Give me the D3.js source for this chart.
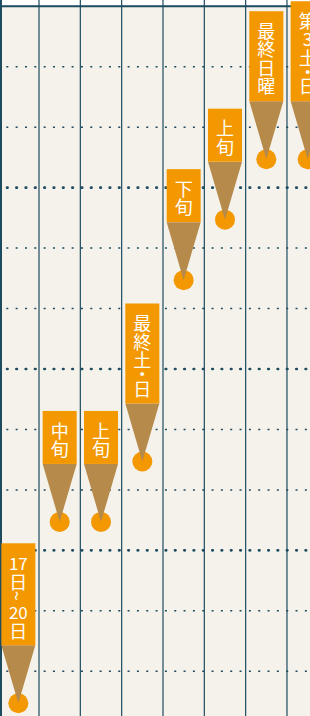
<!DOCTYPE html>
<html>
<head>
<meta charset="utf-8">
<script src="https://cdn.jsdelivr.net/npm/d3@7"></script>
<style>
  body { margin: 0; background: #f5f2eb; }
  svg { display: block; }
</style>
</head>
<body>
<div id="chart"></div>
<script>
// timing label of each event column
var labels = ["17日~20日", "中旬", "上旬", "最終土・日", "下旬", "上旬", "最終日曜", "第3土・日"];
// month of each event (1 = top row)
var months = [12, 9, 9, 8, 5, 4, 3, 3];
// month boundaries drawn as grid lines
var monthTicks = d3.range(1, 13);

var width = 310, height = 716;
var colStep = 41.33, colStart = -2.33;
var rowStep = 60.45, rowStart = 6.3;

var svg = d3.select('#chart').append('svg')
    .attr('width', width)
    .attr('height', height);

svg.append('rect')
    .attr('width', width).attr('height', height)
    .attr('fill', '#f5f2eb');

// white strip on top
svg.append('rect')
    .attr('width', width).attr('height', 5)
    .attr('fill', '#ffffff');

var x = d3.scaleBand()
    .domain(d3.range(labels.length))
    .range([colStart, colStart + colStep * labels.length]);

var y = d3.scaleLinear()
    .domain([0, 12])
    .range([rowStart, rowStart + rowStep * 12]);

var lineColor = '#1d4b60';

// month grid lines, every third one bolder
svg.append('g').selectAll('line')
    .data(monthTicks)
    .join('line')
    .attr('x1', 0).attr('x2', width)
    .attr('y1', function(d) { return y(d); })
    .attr('y2', function(d) { return y(d); })
    .attr('stroke', lineColor)
    .attr('stroke-width', function(d) { return d % 3 === 0 ? 2.7 : 1.5; })
    .attr('stroke-linecap', function(d) { return d % 3 === 0 ? 'round' : 'butt'; })
    .attr('stroke-dasharray', function(d) { return d % 3 === 0 ? '0.5 8.83' : '2 7.33'; })
    .attr('stroke-dashoffset', function(d) { return d % 3 === 0 ? 2.28 : 3.03; });

// top solid line
svg.append('line')
    .attr('x1', 0).attr('x2', width)
    .attr('y1', y(0)).attr('y2', y(0))
    .attr('stroke', lineColor)
    .attr('stroke-width', 2);

// column separators
svg.append('g').selectAll('line')
    .data(d3.range(1, labels.length))
    .join('line')
    .attr('x1', function(d) { return x(d); })
    .attr('x2', function(d) { return x(d); })
    .attr('y1', 0).attr('y2', height)
    .attr('stroke', lineColor)
    .attr('stroke-width', 1.2);

// left border
svg.append('line')
    .attr('x1', 1).attr('x2', 1)
    .attr('y1', 0).attr('y2', height)
    .attr('stroke', lineColor)
    .attr('stroke-width', 2);

/**
 * vertical advance of one stacked token.
 */
function advance(t) {
    if (t === '・') return 10;
    if (t === '~') return 12;
    return 18.5;
}

var boxW = 34, stem = 58, padTop = 9.5, padBottom = 6.5;

var pins = svg.append('g').selectAll('g')
    .data(labels)
    .join('g');

pins.each(function(label, i) {
    var g = d3.select(this);
    var cx = x(i) + x.bandwidth() / 2;
    var cy = y(months[i] - 0.47);
    // digits stay together, everything else one per line
    var tokens = label.match(/\d+|./g);
    var textLen = d3.sum(tokens, advance);
    var boxBottom = cy - stem;
    var boxTop = boxBottom - textLen - padTop - padBottom;

    g.append('circle')
        .attr('cx', cx).attr('cy', cy).attr('r', 10)
        .attr('fill', '#f39800');

    g.append('path')
        .attr('d', 'M' + (cx - boxW / 2) + ',' + boxBottom +
                   'L' + (cx + boxW / 2) + ',' + boxBottom +
                   'L' + cx + ',' + cy + 'Z')
        .attr('fill', '#b68a4a');

    g.append('rect')
        .attr('x', cx - boxW / 2).attr('y', boxTop)
        .attr('width', boxW).attr('height', boxBottom - boxTop)
        .attr('fill', '#f39800');

    var pos = boxTop + padTop;
    tokens.forEach(function(t) {
        var a = advance(t);
        var ty = pos + a / 2;
        var text = g.append('text')
            .attr('x', cx).attr('y', ty)
            .attr('text-anchor', 'middle')
            .attr('dominant-baseline', 'central')
            .attr('fill', '#ffffff')
            .attr('font-family', '"Noto Sans CJK JP", "Noto Sans", sans-serif')
            .attr('font-size', t.length > 1 ? 17 : 18)
            .text(t);
        if (t === '~') {
            text.attr('transform', 'rotate(90,' + cx + ',' + ty + ')');
        }
        pos += a;
    });
});
</script>
</body>
</html>
